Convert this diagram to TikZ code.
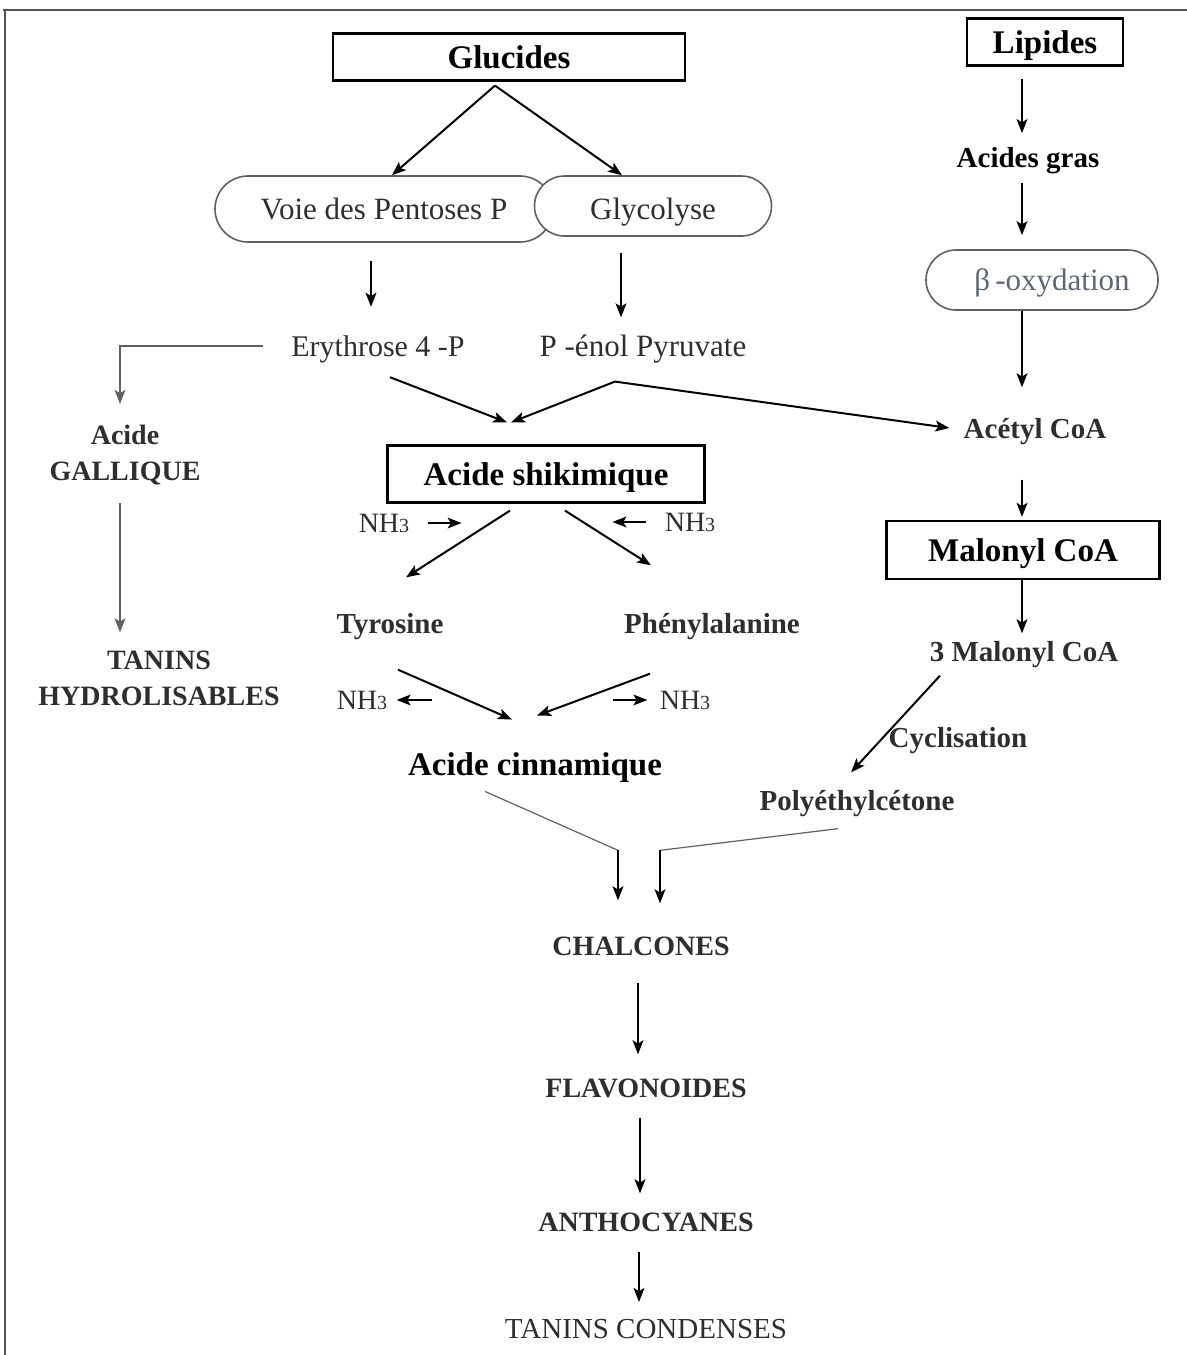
\documentclass[tikz,border=0pt]{standalone}
\usepackage{fontspec}
\setmainfont{Liberation Serif}
\usetikzlibrary{arrows.meta}
\definecolor{txtc}{HTML}{2E2E2E}
\definecolor{pillc}{HTML}{606060}
\definecolor{betac}{HTML}{5C6774}
\definecolor{framec}{HTML}{555555}

\begin{document}
\begin{tikzpicture}[x=0.5pt,y=-0.5pt,>={Stealth[length=7pt,width=5.4pt,inset=1.6pt]},
  lbl/.style={inner sep=0pt,text depth=0pt,text=txtc,font=\fontsize{15.5}{18}\selectfont},
  sbl/.style={inner sep=0pt,text depth=0pt,text=txtc,font=\fontsize{14.5}{18}\selectfont\bfseries},
  capl/.style={inner sep=0pt,text depth=0pt,text=txtc,font=\fontsize{14}{18}\selectfont\bfseries},
  bld/.style={inner sep=0pt,text depth=0pt,text=black,font=\fontsize{16.5}{18}\selectfont\bfseries},
  boxed/.style={draw,line width=1.1pt,inner sep=0pt},
  pill/.style={draw=pillc,line width=0.8pt,rounded corners=15pt,inner sep=0pt},
  arr/.style={->,line width=1pt},
  garr/.style={->,line width=0.6pt,draw=pillc}]
  \useasboundingbox (0,0) rectangle (1187,1355);
  \draw[framec,line width=1pt] (3,10) -- (1187,10);
  \draw[framec,line width=1pt] (5,10) -- (5,1355);

  \node[boxed,bld,minimum width=176pt,minimum height=23.5pt] (gluc) at (509,57) {Glucides};
  \node[boxed,bld,minimum width=78pt,minimum height=23.5pt] (lip) at (1045,42) {Lipides};
  \node[pill,lbl,minimum width=169pt,minimum height=33pt,rounded corners=16.5pt] (voie) at (384,209) {Voie des Pentoses P};
  \node[pill,lbl,fill=white,text height=13pt,minimum width=118.5pt,minimum height=30pt] (glyc) at (653,206) {Glycolyse};
  \node[lbl,font=\fontsize{15}{18}\selectfont] (ery) at (378,346) {Erythrose 4 -P};
  \node[lbl] (pep) at (643,346) {P -énol Pyruvate};
  \node[capl,align=center] (gall) at (125,453) {Acide\\GALLIQUE};
  \node[capl,align=center] (tanh) at (159,678) {TANINS\\HYDROLISABLES};
  \node[bld,font=\fontsize{14.5}{18}\selectfont\bfseries] (agras) at (1028,157) {Acides gras};
  \node[pill,text=betac,text depth=0pt,font=\fontsize{15.5}{18}\selectfont,minimum width=116pt,minimum height=30pt] (beta) at (1042,280) {\hspace*{10pt}β\,-oxydation};
  \node[sbl] (acet) at (1035,428) {Acétyl CoA};
  \node[boxed,bld,minimum width=158.5pt,minimum height=28.5pt] (shik) at (546,474) {Acide shikimique};
  \node[boxed,bld,minimum width=136.5pt,minimum height=29pt] (malo) at (1023,550) {Malonyl CoA};
  \node[sbl] (mal3) at (1024,651) {3 Malonyl CoA};
  \node[sbl] (cycl) at (958,737) {Cyclisation};
  \node[sbl] (poly) at (857,800) {Polyéthylcétone};
  \node[sbl] (tyr) at (390,623) {Tyrosine};
  \node[sbl] (phe) at (712,623) {Phénylalanine};
  \node[bld] (cinn) at (535,764) {Acide cinnamique};
  \node[lbl,font=\fontsize{14}{18}\selectfont] (nha) at (384,523) {NH{\fontsize{10}{10}\selectfont 3}};
  \node[lbl,font=\fontsize{14}{18}\selectfont] (nhb) at (690,522) {NH{\fontsize{10}{10}\selectfont 3}};
  \node[lbl,font=\fontsize{14}{18}\selectfont] (nhc) at (362,700) {NH{\fontsize{10}{10}\selectfont 3}};
  \node[lbl,font=\fontsize{14}{18}\selectfont] (nhd) at (685,700) {NH{\fontsize{10}{10}\selectfont 3}};
  \node[capl] (chal) at (641,946) {CHALCONES};
  \node[capl] (flav) at (646,1088) {FLAVONOIDES};
  \node[capl] (antho) at (646,1222) {ANTHOCYANES};
  \node[lbl,font=\fontsize{14.5}{18}\selectfont] (tcond) at (646,1329) {TANINS CONDENSES};

  \coordinate (gfork) at ([xshift=-7pt,yshift=-2pt]gluc.south);
  \coordinate (shin) at ([xshift=-19.5pt,yshift=11pt]shik.north);
  \coordinate (pepout) at ([xshift=-14pt,yshift=-12.2pt]pep.south);
  \coordinate (chl) at ([xshift=-11.5pt,yshift=43pt]chal.north);
  \coordinate (chr) at ([xshift=9.5pt,yshift=43pt]chal.north);

  \draw[arr] (gfork) -- ([xshift=4pt]voie.north);
  \draw[arr] (gfork) -- ([xshift=-15.5pt]glyc.north);
  \draw[arr,shorten <=9pt,shorten >=14.2pt] ([xshift=-6.5pt]voie.south) -- ([xshift=-6.5pt]voie.south |- ery.north);
  \draw[arr,shorten <=8pt,shorten >=8.7pt] ([xshift=-16pt]glyc.south) -- ([xshift=-16pt]glyc.south |- pep.north);
  \draw[garr,shorten >=10.5pt] ([xshift=-14pt]ery.west) -| ([xshift=-2.5pt]gall.north);
  \draw[garr,shorten <=11pt,shorten >=9pt] ([xshift=-2.5pt]gall.south) -- ([xshift=-2.5pt]gall.south |- tanh.north);
  \draw[arr] ([xshift=6pt,yshift=-10.2pt]ery.south) -- (shin);
  \draw[arr] (pepout) -- ([xshift=2pt]shin);
  \draw[arr] (pepout) -- ([xshift=-7pt]acet.west);

  \draw[arr,shorten <=6pt,shorten >=6.7pt] ([xshift=-11.5pt]lip.south) -- ([xshift=-11.5pt]lip.south |- agras.north);
  \draw[arr,shorten <=7.7pt,shorten >=7pt] ([xshift=-3pt]agras.south) -- ([xshift=-3pt]agras.south |- beta.north);
  \draw[arr,shorten >=15.1pt] ([xshift=-10pt]beta.south) -- ([xshift=-10pt]beta.south |- acet.north);
  \draw[arr,shorten <=20.6pt,shorten >=1.5pt] ([xshift=-6.5pt]acet.south) -- ([xshift=-6.5pt]acet.south |- malo.north);
  \draw[arr,shorten >=3.6pt] ([xshift=-0.5pt]malo.south) -- ([xshift=-0.5pt]malo.south |- mal3.north);
  \draw[arr] ([xshift=-42pt,yshift=-7.1pt]mal3.south) -- ([xshift=-3pt,yshift=8.6pt]poly.north);

  \draw[arr] ([xshift=-18pt,yshift=-3.5pt]shik.south) -- ([xshift=8pt,yshift=17.6pt]tyr.north);
  \draw[arr] ([xshift=9.5pt,yshift=-3.5pt]shik.south) -- ([xshift=-30.5pt,yshift=23.6pt]phe.north);
  \draw[arr,line width=0.7pt] ([xshift=9pt]nha.east) -- ([xshift=26pt]nha.east);
  \draw[arr,line width=0.7pt] ([xshift=-9pt]nhb.west) -- ([xshift=-26pt]nhb.west);
  \draw[arr] ([xshift=4pt,yshift=-18.1pt]tyr.south) -- ([xshift=-11.5pt,yshift=16.3pt]cinn.north);
  \draw[arr] ([xshift=-31pt,yshift=-20.1pt]phe.south) -- ([xshift=1pt,yshift=18.3pt]cinn.north);
  \draw[arr,line width=0.7pt] ([xshift=22pt]nhc.east) -- ([xshift=4.5pt]nhc.east);
  \draw[arr,line width=0.7pt] ([xshift=-23pt]nhd.west) -- ([xshift=-6pt]nhd.west);

  \draw[draw=pillc,line width=0.6pt] ([xshift=-25pt,yshift=-7.8pt]cinn.south) -- (chl);
  \draw[arr] (chl) -- ([xshift=-11.5pt,yshift=18pt]chal.north);
  \draw[draw=pillc,line width=0.6pt] ([xshift=-9.5pt,yshift=-9.1pt]poly.south) -- (chr);
  \draw[arr] (chr) -- ([xshift=9.5pt,yshift=16.5pt]chal.north);
  \draw[arr,shorten <=13.5pt,shorten >=12pt] ([xshift=-1.5pt]chal.south) -- ([xshift=-1.5pt]chal.south |- flav.north);
  \draw[arr,shorten <=10pt,shorten >=9.5pt] ([xshift=-3pt]flav.south) -- ([xshift=-3pt]flav.south |- antho.north);
  \draw[arr,shorten <=10pt,shorten >=8.5pt] ([xshift=-3.5pt]antho.south) -- ([xshift=-3.5pt]antho.south |- tcond.north);
\end{tikzpicture}
\end{document}
